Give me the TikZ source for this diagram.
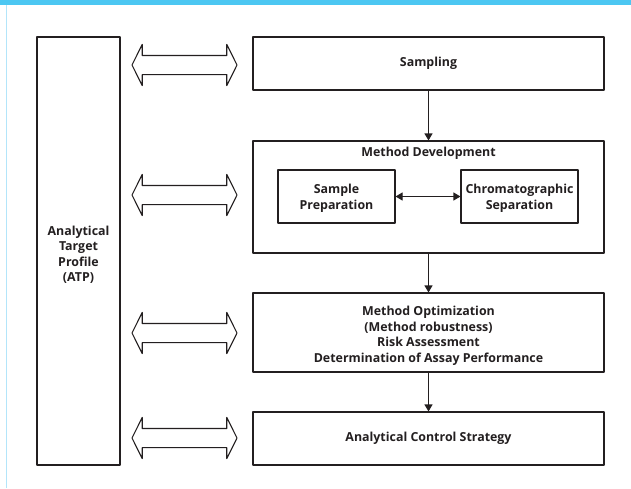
\documentclass[tikz,border=0pt]{standalone}
\usepackage{fontspec}
\setmainfont{Open Sans}
\usetikzlibrary{arrows.meta,shapes.arrows}
\definecolor{barcyan}{HTML}{4CC7F2}
\definecolor{edgecyan}{HTML}{B3E5FA}
\definecolor{inkgray}{HTML}{231F20}
\tikzset{
	box/.style={draw=inkgray,line width=1.1pt,rectangle,align=center,font=\bfseries\fontsize{12.4}{15.5}\selectfont,text=inkgray},
	label text/.style={align=center,font=\bfseries\fontsize{12.4}{15.5}\selectfont,text=inkgray},
	dblarrow/.style={draw=inkgray,line width=1.1pt,double arrow,minimum height=105pt,inner xsep=0pt,inner ysep=9pt,double arrow head extend=11pt,double arrow tip angle=127},
	flow/.style={draw=inkgray,line width=1.1pt,-{Triangle[width=8pt,length=7pt]}},
	biflow/.style={draw=inkgray,line width=1.1pt,{Triangle[width=8pt,length=7pt]}-{Triangle[width=8pt,length=7pt]}}
}
\begin{document}
\begin{tikzpicture}[line cap=round,line join=round,x=1pt,y=-1pt]
	\useasboundingbox (0,0) rectangle (631,488);
	\fill[white] (0,0) rectangle (631,488);
	\fill[barcyan] (0,0) rectangle (631,5);
	\draw[edgecyan,line width=1.5pt,line cap=butt] (6.5,5) -- (6.5,488);
	% left column
	\node[box,minimum width=83pt,minimum height=428pt] (atp) at (78.5,251) {};
	\node[label text] (atptext) at ([yshift=-4pt]atp.center) {Analytical\\Target\\Profile\\(ATP)};
	% right column
	\node[box,minimum width=351pt,minimum height=53pt] (samp) at (428.5,63.5) {Sampling};
	\node[box,minimum width=351pt,minimum height=112pt] (mdev) at (428.5,197) {};
	\node[label text] (mdtitle) at (428.5,153) {Method Development};
	\node[box,minimum width=117pt,minimum height=53pt] (prep) at (336.5,196.5) {};
	\node[label text] at ([yshift=-2pt]prep.center) {Sample\\Preparation};
	\node[box,minimum width=117pt,minimum height=53pt] (chrom) at (519.5,196.5) {};
	\node[label text] at ([yshift=-2pt]chrom.center) {Chromatographic\\Separation};
	\node[box,minimum width=351pt,minimum height=79pt] (mopt) at (428.5,332.5) {};
	\node[label text] (mopttext) at ([yshift=-3.5pt]mopt.center) {Method Optimization\\(Method robustness)\\Risk Assessment\\Determination of Assay Performance};
	\node[box,minimum width=351pt,minimum height=53pt] (acs) at (428.5,438.5) {Analytical Control Strategy};
	% hollow double arrows
	\node[dblarrow] (link1) at (184.5,65) {};
	\node[dblarrow] (link2) at (184.5,195) {};
	\node[dblarrow] (link3) at (184.5,333) {};
	\node[dblarrow] (link4) at (184.5,438) {};
	% flow
	\draw[flow] (samp) -- (mdev);
	\draw[flow] (mdev) -- (mopt);
	\draw[flow] (mopt) -- (acs);
	\draw[biflow] (prep.east) -- (chrom.west);
\end{tikzpicture}
\end{document}
